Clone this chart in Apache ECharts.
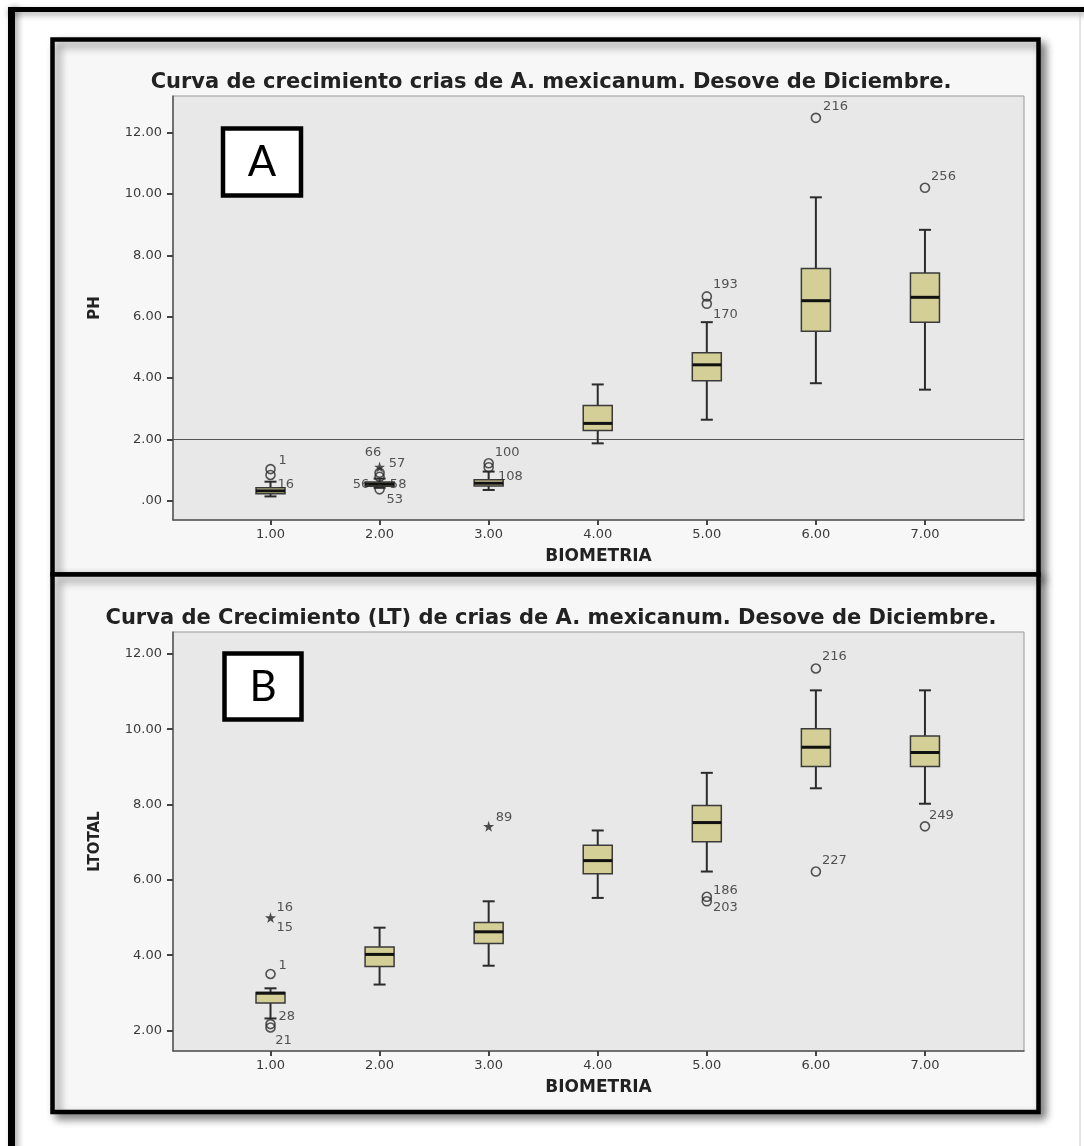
<!DOCTYPE html>
<html>
<head>
<meta charset="utf-8">
<script src="https://cdn.jsdelivr.net/npm/echarts@6/dist/echarts.min.js"></script>
<style>
html,body{margin:0;padding:0;background:#ffffff;}
#chart{width:1084px;height:1146px;}
</style>
</head>
<body>
<div id="chart"></div>
<script>
// ---------------- DATA ----------------
const categories = [1, 2, 3, 4, 5, 6, 7];
const titleA = 'Curva de crecimiento crias de A. mexicanum. Desove de Diciembre.';
const titleB = 'Curva de Crecimiento (LT) de crias de A. mexicanum. Desove de Diciembre.';
const xName = 'BIOMETRIA';
const yNameA = 'PH';
const yNameB = 'LTOTAL';
const yTicksA = [0, 2, 4, 6, 8, 10, 12];
const yTicksB = [2, 4, 6, 8, 10, 12];
const refLineA = 2;

// PH (panel A) box statistics per BIOMETRIA
const phLow    = [0.14, 0.42, 0.35, 1.87, 2.64, 3.83, 3.62];
const phQ1     = [0.23, 0.47, 0.48, 2.29, 3.91, 5.52, 5.82];
const phMedian = [0.32, 0.54, 0.57, 2.52, 4.43, 6.52, 6.63];
const phQ3     = [0.42, 0.61, 0.68, 3.10, 4.82, 7.57, 7.42];
const phHigh   = [0.62, 0.72, 0.95, 3.79, 5.82, 9.89, 8.83];
const phOutliers = [[1, 1.03], [1, 0.84], [2, 0.91], [2, 0.78], [2, 0.37], [3, 1.22], [3, 1.09],
                    [5, 6.66], [5, 6.42], [6, 12.48], [7, 10.2]];
const phExtremes = [[2, 1.10]];
const phCaseLabels = [[1.11, 1.30, '1'], [1.14, 0.54, '16'], [1.94, 1.56, '66'], [2.16, 1.22, '57'],
                      [1.83, 0.54, '56'], [2.17, 0.54, '58'], [2.14, 0.02, '53'], [3.17, 1.56, '100'],
                      [3.20, 0.78, '108'], [5.17, 7.03, '193'], [5.17, 6.06, '170'],
                      [6.18, 12.85, '216'], [7.17, 10.58, '256']];

// LTOTAL (panel B) box statistics per BIOMETRIA
const ltLow    = [2.32, 3.22, 3.72, 5.52, 6.22, 8.43, 8.02];
const ltQ1     = [2.73, 3.70, 4.31, 6.16, 7.01, 9.01, 9.01];
const ltMedian = [2.99, 4.02, 4.62, 6.51, 7.52, 9.52, 9.38];
const ltQ3     = [3.01, 4.22, 4.87, 6.92, 7.97, 10.01, 9.82];
const ltHigh   = [3.12, 4.73, 5.43, 7.31, 8.84, 11.03, 11.03];
const ltOutliers = [[1, 3.50], [1, 2.17], [1, 2.08], [5, 5.55], [5, 5.43], [6, 11.61], [6, 6.22], [7, 7.42]];
const ltExtremes = [[1, 5.0], [3, 7.42]];
const ltCaseLabels = [[1.11, 3.71, '1'], [1.13, 5.27, '16'], [1.13, 4.74, '15'], [1.15, 2.38, '28'],
                      [1.12, 1.73, '21'], [3.14, 7.66, '89'], [5.17, 5.71, '186'], [5.17, 5.25, '203'],
                      [6.17, 11.92, '216'], [6.17, 6.52, '227'], [7.15, 7.71, '249']];

// ---------------- STYLE / LAYOUT ----------------
const FONT = 'DejaVu Sans';
const BOX_FILL = '#d4cf96';
const STAR = 'path://M50,0 L61,35 L98,35 L68,57 L79,91 L50,70 L21,91 L32,57 L2,35 L39,35 Z';

function boxRows(lo, q1, md, q3, hi) {
  return categories.map((c, i) => [c, lo[i], q1[i], md[i], q3[i], hi[i]]);
}

function renderBox(params, api) {
  const x = api.value(0);
  const pLo = api.coord([x, api.value(1)]);
  const pQ1 = api.coord([x, api.value(2)]);
  const pMd = api.coord([x, api.value(3)]);
  const pQ3 = api.coord([x, api.value(4)]);
  const pHi = api.coord([x, api.value(5)]);
  const cx = pLo[0];
  const hw = 14.5, cw = 6;
  const wStyle = {stroke: '#2b2b2b', lineWidth: 2};
  return {
    type: 'group',
    children: [
      {type: 'line', shape: {x1: cx, y1: pHi[1], x2: cx, y2: pQ3[1]}, style: wStyle},
      {type: 'line', shape: {x1: cx, y1: pQ1[1], x2: cx, y2: pLo[1]}, style: wStyle},
      {type: 'line', shape: {x1: cx - cw, y1: pHi[1], x2: cx + cw, y2: pHi[1]}, style: wStyle},
      {type: 'line', shape: {x1: cx - cw, y1: pLo[1], x2: cx + cw, y2: pLo[1]}, style: wStyle},
      {type: 'rect', shape: {x: cx - hw, y: pQ3[1], width: hw * 2, height: Math.max(pQ1[1] - pQ3[1], 1)},
        style: {fill: BOX_FILL, stroke: '#3a3a3a', lineWidth: 1.5}},
      {type: 'line', shape: {x1: cx - hw, y1: pMd[1], x2: cx + hw, y2: pMd[1]},
        style: {stroke: '#111', lineWidth: 3}}
    ]
  };
}

function xAxisFor(gi) {
  return {
    type: 'value', gridIndex: gi, min: 0.106, max: 7.908,
    name: xName, nameLocation: 'middle', nameGap: 28,
    nameTextStyle: {fontFamily: FONT, fontWeight: 'bold', fontSize: 17, color: '#222'},
    axisLine: {show: true, onZero: false, lineStyle: {color: '#555', width: 1.5}},
    axisTick: {show: true, length: 5, customValues: categories, lineStyle: {color: '#444', width: 2}},
    axisLabel: {customValues: categories, formatter: v => v.toFixed(2),
      fontFamily: FONT, fontSize: 13, color: '#3a3a3a', margin: 8},
    splitLine: {show: false}
  };
}

function yAxisFor(gi, min, max, ticks, name) {
  return {
    type: 'value', gridIndex: gi, min: min, max: max,
    name: name, nameLocation: 'middle', nameGap: 70, nameRotate: 90,
    nameTextStyle: {fontFamily: FONT, fontWeight: 'bold', fontSize: 15, color: '#222'},
    axisLine: {show: true, onZero: false, lineStyle: {color: '#555', width: 1.5}},
    axisTick: {show: true, length: 6, customValues: ticks, lineStyle: {color: '#444', width: 2}},
    axisLabel: {customValues: ticks, formatter: v => (v === 0 ? '.00' : v.toFixed(2)),
      fontFamily: FONT, fontSize: 13, color: '#3a3a3a', margin: 11},
    splitLine: {show: false}
  };
}

function outlierSeries(gi, data) {
  return {type: 'scatter', xAxisIndex: gi, yAxisIndex: gi, data: data, symbol: 'circle', symbolSize: 9,
    itemStyle: {color: 'rgba(0,0,0,0)', borderColor: '#2b2b2b', borderWidth: 1.6}, silent: true, z: 5};
}
function extremeSeries(gi, data) {
  return {type: 'scatter', xAxisIndex: gi, yAxisIndex: gi, data: data, symbol: STAR, symbolSize: 11,
    itemStyle: {color: '#222'}, silent: true, z: 5};
}
function labelSeries(gi, data) {
  return {type: 'scatter', xAxisIndex: gi, yAxisIndex: gi, data: data, symbolSize: 1,
    itemStyle: {color: 'rgba(0,0,0,0)'}, silent: true, z: 6,
    label: {show: true, position: 'inside', formatter: p => p.value[2],
      fontFamily: FONT, fontSize: 13, color: '#2a2a2a'}};
}

const option = {
  backgroundColor: '#ffffff',
  animation: false,
  title: [
    {text: titleA, left: 546, top: 67, textAlign: 'center',
      textStyle: {fontFamily: FONT, fontWeight: 'bold', fontSize: 21, color: '#222'}},
    {text: titleB, left: 546, top: 603, textAlign: 'center',
      textStyle: {fontFamily: FONT, fontWeight: 'bold', fontSize: 21, color: '#222'}}
  ],
  grid: [
    {left: 173, top: 96, width: 851, height: 424, show: true, backgroundColor: '#e8e8e8',
      borderColor: '#999', borderWidth: 1},
    {left: 173, top: 632, width: 851, height: 419, show: true, backgroundColor: '#e8e8e8',
      borderColor: '#999', borderWidth: 1}
  ],
  xAxis: [xAxisFor(0), xAxisFor(1)],
  yAxis: [
    yAxisFor(0, -0.629, 13.193, yTicksA, yNameA),
    yAxisFor(1, 1.456, 12.579, yTicksB, yNameB)
  ],
  series: [
    {type: 'custom', xAxisIndex: 0, yAxisIndex: 0, renderItem: renderBox,
      data: boxRows(phLow, phQ1, phMedian, phQ3, phHigh), encode: {x: 0, y: [1, 2, 3, 4, 5]}, silent: true, z: 3},
    Object.assign(outlierSeries(0, phOutliers), {
      markLine: {silent: true, symbol: ['none', 'none'], label: {show: false},
        lineStyle: {color: '#555', width: 1.2, type: 'solid'}, data: [{yAxis: refLineA}], z: 1}
    }),
    extremeSeries(0, phExtremes),
    labelSeries(0, phCaseLabels),
    {type: 'custom', xAxisIndex: 1, yAxisIndex: 1, renderItem: renderBox,
      data: boxRows(ltLow, ltQ1, ltMedian, ltQ3, ltHigh), encode: {x: 0, y: [1, 2, 3, 4, 5]}, silent: true, z: 3},
    outlierSeries(1, ltOutliers),
    extremeSeries(1, ltExtremes),
    labelSeries(1, ltCaseLabels)
  ],
  graphic: {
    elements: [
      // outer frame
      {type: 'rect', z: -200, silent: true, shape: {x: 8, y: 7, width: 7, height: 1150},
        style: {fill: '#000', shadowBlur: 6, shadowOffsetX: 3, shadowColor: 'rgba(0,0,0,0.35)'}},
      {type: 'rect', z: -200, silent: true, shape: {x: 8, y: 7, width: 1080, height: 5},
        style: {fill: '#000', shadowBlur: 6, shadowOffsetY: 3, shadowColor: 'rgba(0,0,0,0.35)'}},
      {type: 'line', z: -200, silent: true, shape: {x1: 1080, y1: 12, x2: 1080, y2: 1146},
        style: {stroke: '#c8c8c8', lineWidth: 1}},
      // panels
      {type: 'rect', z: -100, silent: true, shape: {x: 52.5, y: 39.5, width: 986, height: 535},
        style: {fill: '#f7f7f7', stroke: '#000', lineWidth: 4.5, shadowBlur: 8, shadowOffsetX: 5,
          shadowOffsetY: 5, shadowColor: 'rgba(0,0,0,0.45)'}},
      {type: 'rect', z: -99, silent: true, shape: {x: 52.5, y: 574.5, width: 986, height: 537.5},
        style: {fill: '#f7f7f7', stroke: '#000', lineWidth: 4.5, shadowBlur: 8, shadowOffsetX: 5,
          shadowOffsetY: 5, shadowColor: 'rgba(0,0,0,0.45)'}},
      // panel letters
      {type: 'rect', z: 100, silent: true, shape: {x: 223, y: 128.5, width: 78, height: 67},
        style: {fill: '#fff', stroke: '#000', lineWidth: 4.5}},
      {type: 'text', z: 101, silent: true, x: 262, y: 162,
        style: {text: 'A', fontFamily: 'Lato', fontSize: 42, fill: '#000', align: 'center', verticalAlign: 'middle'}},
      {type: 'rect', z: 100, silent: true, shape: {x: 224.5, y: 653.5, width: 77, height: 66},
        style: {fill: '#fff', stroke: '#000', lineWidth: 4.5}},
      {type: 'text', z: 101, silent: true, x: 263, y: 687,
        style: {text: 'B', fontFamily: 'Lato', fontSize: 42, fill: '#000', align: 'center', verticalAlign: 'middle'}}
    ]
  }
};

const chart = echarts.init(document.getElementById('chart'), null, {renderer: 'canvas'});
chart.setOption(option);
</script>
</body>
</html>
